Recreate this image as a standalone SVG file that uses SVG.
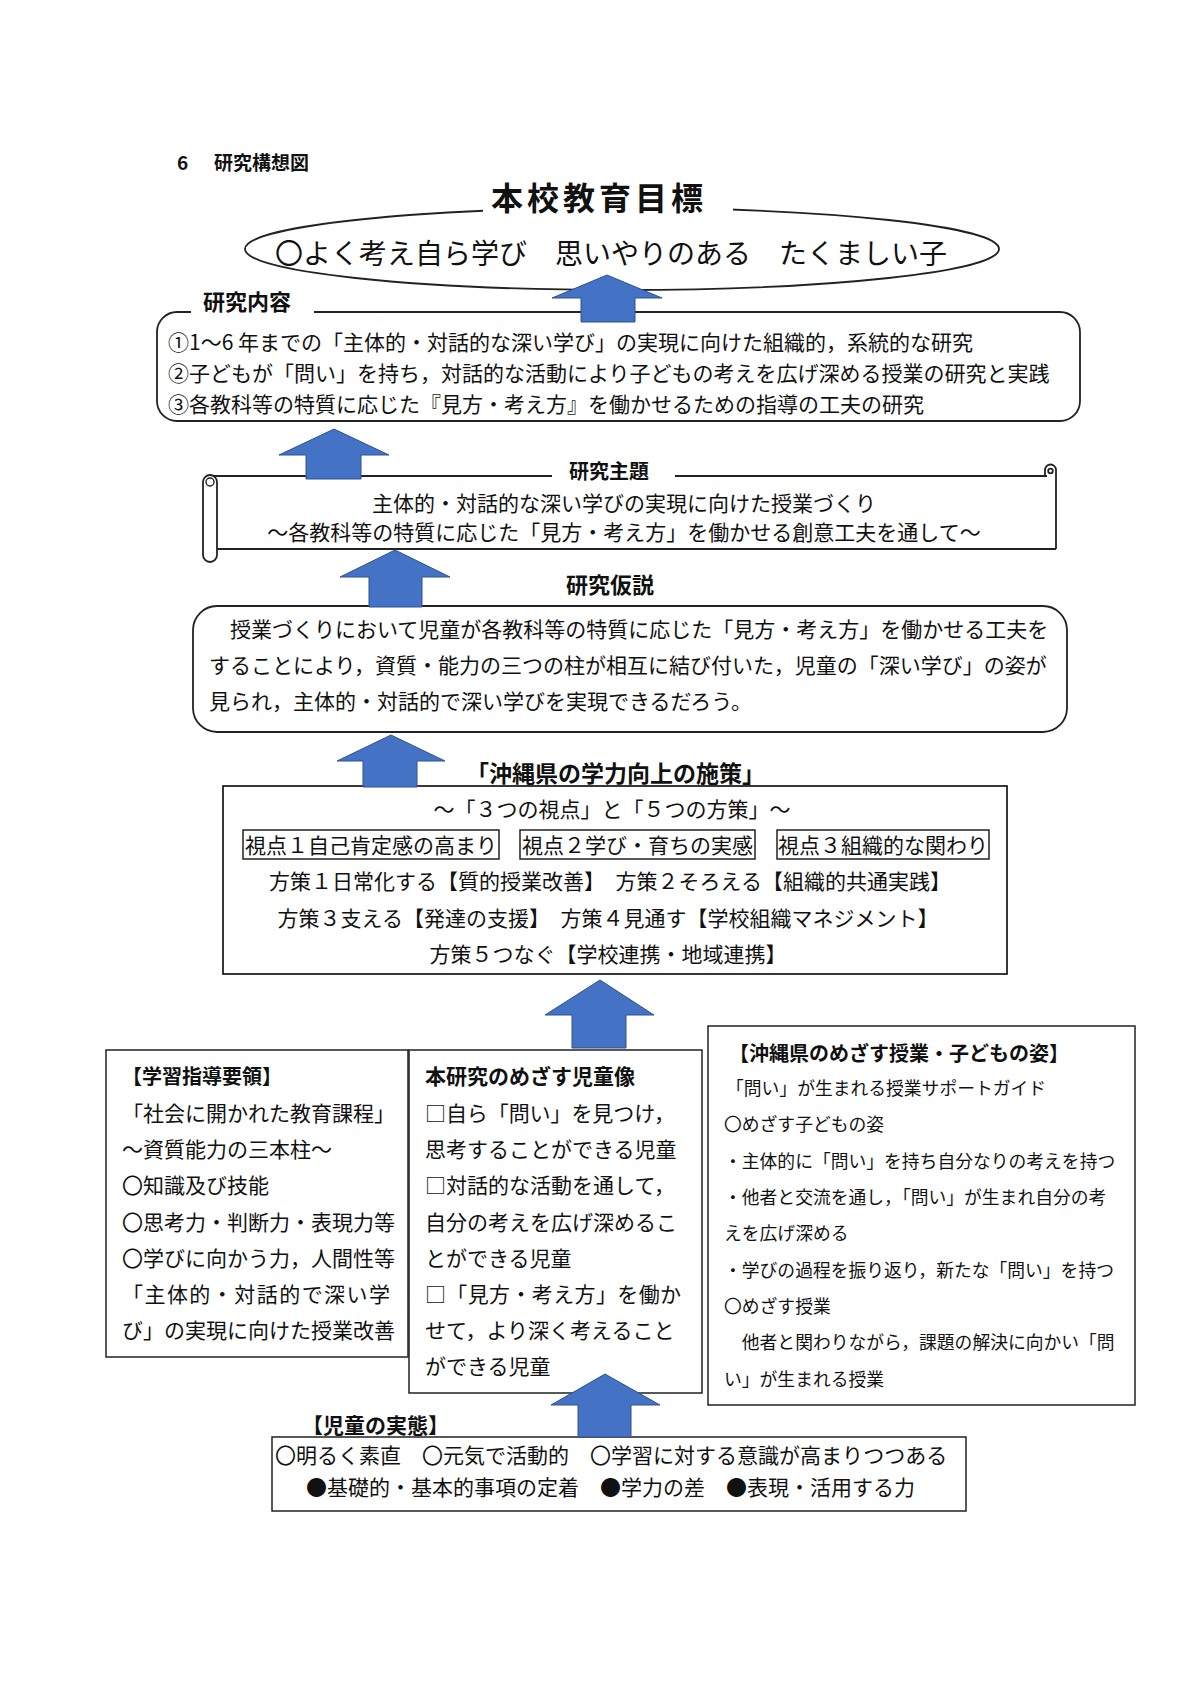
<svg xmlns="http://www.w3.org/2000/svg" width="1200" height="1698" viewBox="0 0 1200 1698">
<style>
text{font-family:"Noto Sans CJK JP","Noto Sans",sans-serif;fill:#111;}
.b{font-weight:bold;}
.t21{font-size:21px;}
.t18{font-size:17.8px;}
.box{fill:#fff;stroke:#222;stroke-width:1.8;}
.sq{fill:#fff;stroke:#222;stroke-width:1.5;}
.arrow{fill:#4472C4;stroke:#2F528F;stroke-width:1;}
.ln{fill:none;stroke:#222;stroke-width:1.8;}
</style>
<rect x="0" y="0" width="1200" height="1698" fill="#fff"/>

<g id="heading">
<text x="177" y="170" font-size="19" class="b">6</text>
<text x="214" y="170" font-size="19" class="b">研究構想図</text>
</g>

<g id="goal">
<ellipse cx="622" cy="249" rx="377" ry="41" class="ln"/>
<rect x="483" y="178" width="250" height="44" fill="#fff"/>
<text x="599" y="210" font-size="32" class="b" text-anchor="middle" letter-spacing="4">本校教育目標</text>
<text x="275" y="264" font-size="28">〇よく考え自ら学び　思いやりのある　たくましい子</text>
</g>

<g id="content">
<rect x="157" y="312" width="923" height="109" rx="20" class="box"/>
<rect x="191" y="304" width="123" height="16" fill="#fff"/>
<text x="203" y="310" font-size="22" class="b">研究内容</text>
<text x="168" y="350" class="t21">①1～6 年までの「主体的・対話的な深い学び」の実現に向けた組織的，系統的な研究</text>
<text x="168" y="381" class="t21">②子どもが「問い」を持ち，対話的な活動により子どもの考えを広げ深める授業の研究と実践</text>
<text x="168" y="412" class="t21">③各教科等の特質に応じた『見方・考え方』を働かせるための指導の工夫の研究</text>
</g>

<g id="theme">
<line x1="210" y1="476" x2="552" y2="476" class="ln"/>
<line x1="675" y1="476" x2="1047" y2="476" class="ln"/>
<line x1="217" y1="549" x2="1056" y2="549" class="ln"/>
<path d="M1045,476 L1045,470 A5.5,5.5 0 0 1 1056,470 L1056,549" class="ln"/>
<circle cx="1050.5" cy="471" r="2.3" class="ln" stroke-width="1.4"/>
<rect x="203" y="475" width="14" height="87" rx="7" fill="#fff" stroke="#222" stroke-width="1.8"/>
<circle cx="210" cy="482" r="4" fill="none" stroke="#222" stroke-width="1.4"/>
<text x="569" y="479" font-size="20" class="b">研究主題</text>
<text x="624" y="511" class="t21" text-anchor="middle">主体的・対話的な深い学びの実現に向けた授業づくり</text>
<text x="624" y="540" class="t21" text-anchor="middle">～各教科等の特質に応じた「見方・考え方」を働かせる創意工夫を通して～</text>
</g>

<g id="hypothesis">
<text x="566" y="593" font-size="22" class="b">研究仮説</text>
<rect x="193" y="606" width="874" height="126" rx="24" class="box"/>
<text x="209" y="637" class="t21">　授業づくりにおいて児童が各教科等の特質に応じた「見方・考え方」を働かせる工夫を</text>
<text x="209" y="673" class="t21">することにより，資質・能力の三つの柱が相互に結び付いた，児童の「深い学び」の姿が</text>
<text x="209" y="709" class="t21">見られ，主体的・対話的で深い学びを実現できるだろう。</text>
</g>

<g id="policy">
<text x="466" y="782" font-size="23" class="b">「沖縄県の学力向上の施策」</text>
<rect x="223" y="786" width="784" height="188" class="box"/>
<text x="612" y="817" class="t21" text-anchor="middle">～「３つの視点」と「５つの方策」～</text>
<rect x="243" y="830" width="256" height="29" class="sq" stroke-width="1.2"/>
<rect x="520" y="830" width="235" height="29" class="sq" stroke-width="1.2"/>
<rect x="777" y="830" width="212" height="29" class="sq" stroke-width="1.2"/>
<text x="371" y="853" class="t21" text-anchor="middle">視点１自己肯定感の高まり</text>
<text x="637.5" y="853" class="t21" text-anchor="middle">視点２学び・育ちの実感</text>
<text x="883" y="853" class="t21" text-anchor="middle">視点３組織的な関わり</text>
<text x="610" y="889" class="t21" text-anchor="middle">方策１日常化する【質的授業改善】　方策２そろえる【組織的共通実践】</text>
<text x="608" y="926" class="t21" text-anchor="middle">方策３支える【発達の支援】　方策４見通す【学校組織マネジメント】</text>
<text x="608" y="962" class="t21" text-anchor="middle">方策５つなぐ【学校連携・地域連携】</text>
</g>

<g id="guideline">
<rect x="106" y="1050" width="302" height="307" class="sq"/>
<text x="122" y="1084" font-size="20" class="b">【学習指導要領】</text>
<text x="122" y="1121" class="t21">「社会に開かれた教育課程」</text>
<text x="122" y="1157" class="t21">～資質能力の三本柱～</text>
<text x="122" y="1193" class="t21">〇知識及び技能</text>
<text x="122" y="1230" class="t21">〇思考力・判断力・表現力等</text>
<text x="122" y="1266" class="t21">〇学びに向かう力，人間性等</text>
<text x="122" y="1302" class="t21" textLength="268" lengthAdjust="spacing">「主体的・対話的で深い学</text>
<text x="122" y="1338" class="t21">び」の実現に向けた授業改善</text>
</g>

<g id="child-image">
<rect x="409" y="1050" width="293" height="343" class="sq"/>
<text x="425" y="1084" class="t21 b">本研究のめざす児童像</text>
<text x="425" y="1121" class="t21" textLength="250" lengthAdjust="spacing">□自ら「問い」を見つけ，</text>
<text x="425" y="1157" class="t21">思考することができる児童</text>
<text x="425" y="1193" class="t21" textLength="250" lengthAdjust="spacing">□対話的な活動を通して，</text>
<text x="425" y="1230" class="t21">自分の考えを広げ深めるこ</text>
<text x="425" y="1266" class="t21">とができる児童</text>
<text x="425" y="1302" class="t21" textLength="256" lengthAdjust="spacing">□「見方・考え方」を働か</text>
<text x="425" y="1338" class="t21">せて，より深く考えること</text>
<text x="425" y="1374" class="t21">ができる児童</text>
</g>

<g id="okinawa-class">
<rect x="708" y="1026" width="427" height="379" class="sq"/>
<text x="729" y="1061" font-size="20" class="b">【沖縄県のめざす授業・子どもの姿】</text>
<text x="726" y="1095" class="t18">「問い」が生まれる授業サポートガイド</text>
<text x="724" y="1131" class="t18">〇めざす子どもの姿</text>
<text x="724" y="1168" class="t18">・主体的に「問い」を持ち自分なりの考えを持つ</text>
<text x="724" y="1204" class="t18">・他者と交流を通し，「問い」が生まれ自分の考</text>
<text x="724" y="1240" class="t18">えを広げ深める</text>
<text x="724" y="1277" class="t18">・学びの過程を振り返り，新たな「問い」を持つ</text>
<text x="724" y="1313" class="t18">〇めざす授業</text>
<text x="724" y="1349" class="t18">　他者と関わりながら，課題の解決に向かい「問</text>
<text x="724" y="1386" class="t18">い」が生まれる授業</text>
</g>

<g id="reality">
<text x="302" y="1433" font-size="21" class="b">【児童の実態】</text>
<rect x="272" y="1437" width="694" height="74" class="sq"/>
<text x="275" y="1463" class="t21">〇明るく素直　〇元気で活動的　〇学習に対する意識が高まりつつある</text>
<text x="306" y="1495" class="t21">●基礎的・基本的事項の定着　●学力の差　●表現・活用する力</text>
</g>

<g id="connectors">
<polygon class="arrow" points="607,275 662,298 635,298 635,322 581,322 581,298 552,298"/>
<polygon class="arrow" points="334,429 389,455 361,455 361,479 306,479 306,455 279,455"/>
<polygon class="arrow" points="395,550 450,577 422,577 422,607 369,607 369,577 340,577"/>
<polygon class="arrow" points="391,735 445,761 417,761 417,787 363,787 363,761 337,761"/>
<polygon class="arrow" points="600,980 654,1015 626,1015 626,1048 572,1048 572,1015 545,1015"/>
<polygon class="arrow" points="605,1374 660,1405 631,1405 631,1437 578,1437 578,1405 551,1405"/>
</g>
</svg>
